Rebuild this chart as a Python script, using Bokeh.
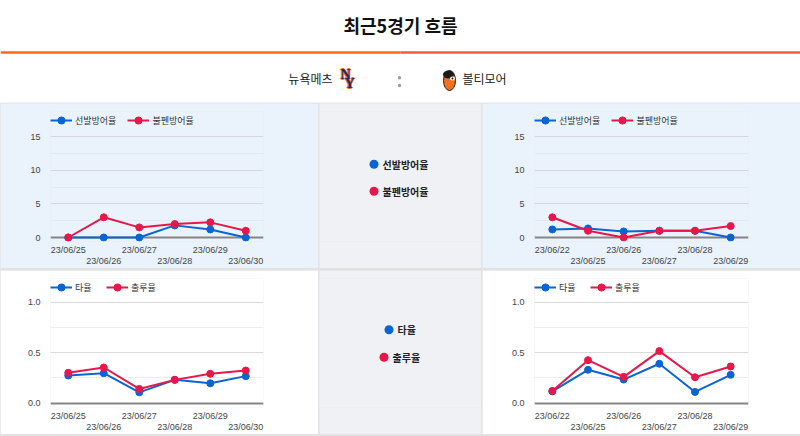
from bokeh.plotting import figure
from bokeh.models import Range1d, FixedTicker, Legend, LegendItem, Div, ColumnDataSource, LinearAxis, Grid
from bokeh.layouts import row, column
from bokeh.embed import file_html
from bokeh.resources import INLINE
from bokeh.core.properties import value

# ---------------- data ----------------
title_text = "최근5경기 흐름"
home_team = "뉴욕메츠"
away_team = "볼티모어"

home_dates = ["23/06/25", "23/06/26", "23/06/27", "23/06/28", "23/06/29", "23/06/30"]
away_dates = ["23/06/22", "23/06/25", "23/06/26", "23/06/27", "23/06/28", "23/06/29"]

era_names = ["선발방어율", "불펜방어율"]
bat_names = ["타율", "출루율"]

home_starter_era = [0, 0, 0, 1.8, 1.2, 0]
home_bullpen_era = [0, 3.0, 1.5, 2.0, 2.25, 1.0]
away_starter_era = [1.2, 1.35, 0.9, 1.0, 1.0, 0]
away_bullpen_era = [3.0, 1.0, 0, 1.0, 1.0, 1.7]

home_avg = [0.273, 0.296, 0.106, 0.23, 0.196, 0.267]
home_obp = [0.30, 0.353, 0.14, 0.23, 0.29, 0.323]
away_avg = [0.116, 0.33, 0.233, 0.39, 0.11, 0.28]
away_obp = [0.12, 0.426, 0.26, 0.516, 0.256, 0.363]

era_ticks = [0, 5, 10, 15]
era_tick_labels = ["0", "5", "10", "15"]
era_minor = [2.5, 7.5, 12.5]
bat_ticks = [0, 0.5, 1.0]
bat_tick_labels = ["0.0", "0.5", "1.0"]
bat_minor = [0.25, 0.75]

# ---------------- styles ----------------
BLUE = "#0a64d2"
RED = "#e9164a"
PANEL_BLUE = "#eaf3fb"
CENTER_BG = "#f0f1f4"
TICK_FONT = "Liberation Sans"
KR_FONT = "Noto Sans CJK KR"
FRAME_TOP = 8


def frame_bottom_for(height):
    return 138 if height == 165 else 137


def make_chart(dates, s1, s2, names, yticks, ylabels, yminor, px_per_unit,
               height, left, right, bg, major_c, minor_c):
    fb = frame_bottom_for(height)
    zero_px = 134 if height == 165 else 132.5
    ymax = (zero_px - FRAME_TOP) / px_per_unit
    ymin = -(fb - zero_px) / px_per_unit
    p = figure(width=318, height=height, output_backend="svg", toolbar_location=None,
               x_range=Range1d(-0.5, len(dates) - 0.5), y_range=Range1d(ymin, ymax),
               x_axis_location=None, y_axis_location=None,
               min_border_left=left, min_border_right=right,
               min_border_top=FRAME_TOP, min_border_bottom=height - fb,
               background_fill_color=bg, border_fill_color=bg, outline_line_color=None,
               margin=0)
    p.grid.visible = False

    g = Grid(dimension=1, ticker=FixedTicker(ticks=[t for t in yticks if t != 0], minor_ticks=yminor),
             grid_line_color=major_c, minor_grid_line_color=minor_c, grid_line_width=1)
    p.add_layout(g)
    g0 = Grid(dimension=1, ticker=FixedTicker(ticks=[0]), grid_line_color="#858585", grid_line_width=2)
    p.add_layout(g0)

    yax = LinearAxis(ticker=FixedTicker(ticks=yticks),
                     major_label_overrides={t: l for t, l in zip(yticks, ylabels)})
    idx = list(range(len(dates)))
    xa1 = LinearAxis(ticker=FixedTicker(ticks=idx[0::2]),
                     major_label_overrides={i: dates[i] for i in idx[0::2]})
    xa2 = LinearAxis(ticker=FixedTicker(ticks=idx[1::2]),
                     major_label_overrides={i: dates[i] for i in idx[1::2]})
    for a in (yax, xa1, xa2):
        a.axis_line_color = None
        a.major_tick_line_color = None
        a.minor_tick_line_color = None
        a.major_tick_out = 0
        a.major_tick_in = 0
        a.minor_tick_out = 0
        a.major_label_text_font_size = "9px"
        a.major_label_text_color = "#444444"
        a.major_label_text_font = TICK_FONT
    yax.major_label_standoff = 10
    xa1.major_label_standoff = 3
    xa2.major_label_standoff = -2
    p.add_layout(yax, "left")
    p.add_layout(xa1, "below")
    p.add_layout(xa2, "below")

    src = ColumnDataSource(dict(x=idx, a=s1, b=s2))
    l1 = p.line("x", "a", source=src, line_color=BLUE, line_width=2)
    c1 = p.scatter("x", "a", source=src, size=7, fill_color=BLUE, line_color=BLUE)
    l2 = p.line("x", "b", source=src, line_color=RED, line_width=2)
    c2 = p.scatter("x", "b", source=src, size=7, fill_color=RED, line_color=RED)

    leg = Legend(items=[LegendItem(label=value(names[0]), renderers=[l1, c1]),
                        LegendItem(label=value(names[1]), renderers=[l2, c2])],
                 location="top_left", orientation="horizontal", padding=0, margin=0,
                 spacing=11, glyph_width=22, glyph_height=18, label_height=18,
                 label_standoff=3, label_text_font_size="9px", label_text_font=KR_FONT,
                 label_text_color="#333333", border_line_color=None, background_fill_alpha=0)
    p.add_layout(leg)
    return p


def make_center(names, height, ys):
    fb = frame_bottom_for(height)
    w = 162
    c = figure(width=w, height=height, output_backend="svg", toolbar_location=None,
               x_range=Range1d(0, w), y_range=Range1d(fb, FRAME_TOP),
               x_axis_location=None, y_axis_location=None,
               min_border_left=0, min_border_right=0,
               min_border_top=FRAME_TOP, min_border_bottom=height - fb,
               background_fill_color=CENTER_BG, border_fill_color=CENTER_BG,
               outline_line_color=None, margin=0)
    c.grid.visible = False
    xs = [w / 2 - (12 + 10 * len(n)) / 2 + 4.5 for n in names]
    c.scatter(x=xs, y=ys, size=9, fill_color=[BLUE, RED], line_color=None)
    c.text(x=[x + 8.5 for x in xs], y=ys, text=names, text_font=value(KR_FONT),
           text_font_style="bold", text_font_size="10px", text_color="#222222",
           text_align="left", text_baseline="middle")
    return c


# ---------------- header ----------------
h = figure(width=800, height=103, output_backend="svg", toolbar_location=None,
           x_range=Range1d(0, 800), y_range=Range1d(103, 0),
           x_axis_location=None, y_axis_location=None,
           min_border=0, min_border_left=0, min_border_right=0,
           min_border_top=0, min_border_bottom=0,
           background_fill_color="white", border_fill_color="white", outline_line_color=None,
           margin=0)
h.grid.visible = False
h.text(x=[400], y=[24], text=[title_text], text_font=value(KR_FONT), text_font_style="bold",
       text_font_size="18px", text_color="#111111", text_align="center", text_baseline="middle")
h.quad(left=[0, 400], right=[400, 800], top=[50.8, 50.8], bottom=[53.2, 53.2],
       fill_color=["#ff6a10", "#f05c3c"], line_color=None)
h.quad(left=[0], right=[800], top=[102], bottom=[103], fill_color="#e6eaee", line_color=None)
h.text(x=[332], y=[78], text=[home_team], text_font=value(KR_FONT), text_font_size="12px",
       text_color="#222222", text_align="right", text_baseline="middle")
h.text(x=[462], y=[78], text=[away_team], text_font=value(KR_FONT), text_font_size="12px",
       text_color="#222222", text_align="left", text_baseline="middle")
# Mets "NY" logo (approximation)
for dx, dy in [(-1, 0), (1, 0), (0, -1), (0, 1)]:
    h.text(x=[345 + dx, 349 + dx], y=[74 + dy, 83 + dy], text=["N", "Y"],
           text_font=value("Liberation Serif"), text_font_style="bold", text_font_size="14px",
           text_color="#f26a1b", text_align="center", text_baseline="middle")
h.text(x=[345, 349], y=[74, 83], text=["N", "Y"], text_font=value("Liberation Serif"),
       text_font_style="bold", text_font_size="14px", text_color="#1d2b6e",
       text_align="center", text_baseline="middle")
# colon
h.scatter(x=[399, 399], y=[77.3, 85], size=3.5, fill_color="#9a9ea4", line_color=None)
# Orioles bird logo (approximation)
h.ellipse(x=[449], y=[80], width=12, height=20, fill_color="#f2701f", line_color="#2a1a10", line_width=1)
h.ellipse(x=[448], y=[74], width=11, height=8, fill_color="#1a1a1a", line_color=None)
h.ellipse(x=[452], y=[78], width=5, height=4, fill_color="white", line_color=None)
h.scatter(x=[452], y=[78], size=2, fill_color="#111111", line_color=None)

# ---------------- panels ----------------
tl = make_chart(home_dates, home_starter_era, home_bullpen_era, era_names, era_ticks, era_tick_labels,
                era_minor, 101 / 15, 165, 50, 55, PANEL_BLUE, "#d3d7dc", "#e3e9f0")
tr = make_chart(away_dates, away_starter_era, away_bullpen_era, era_names, era_ticks, era_tick_labels,
                era_minor, 101 / 15, 165, 52, 52, PANEL_BLUE, "#d3d7dc", "#e3e9f0")
tc = make_center(era_names, 165, [60.7, 87.7])

bl = make_chart(home_dates, home_avg, home_obp, bat_names, bat_ticks, bat_tick_labels,
                bat_minor, 100.6, 164, 50, 55, "white", "#dadada", "#ededed")
br = make_chart(away_dates, away_avg, away_obp, bat_names, bat_ticks, bat_tick_labels,
                bat_minor, 100.6, 164, 52, 52, "white", "#dadada", "#ededed")
bc = make_center(bat_names, 164, [59.3, 86.7])

sep1 = Div(width=800, height=2, margin=0, styles={"background-color": "#e2e2e2"})
sep2 = Div(width=800, height=2, margin=0, styles={"background-color": "#e2e2e2"})

row_style = {"background-color": "#e3e4e7"}
layout = column(h,
                row(tl, tc, tr, spacing=1, margin=0, styles=row_style),
                sep1,
                row(bl, bc, br, spacing=1, margin=0, styles=row_style),
                sep2, spacing=0, margin=0)

open("out.html", "w").write(file_html(layout, INLINE))
